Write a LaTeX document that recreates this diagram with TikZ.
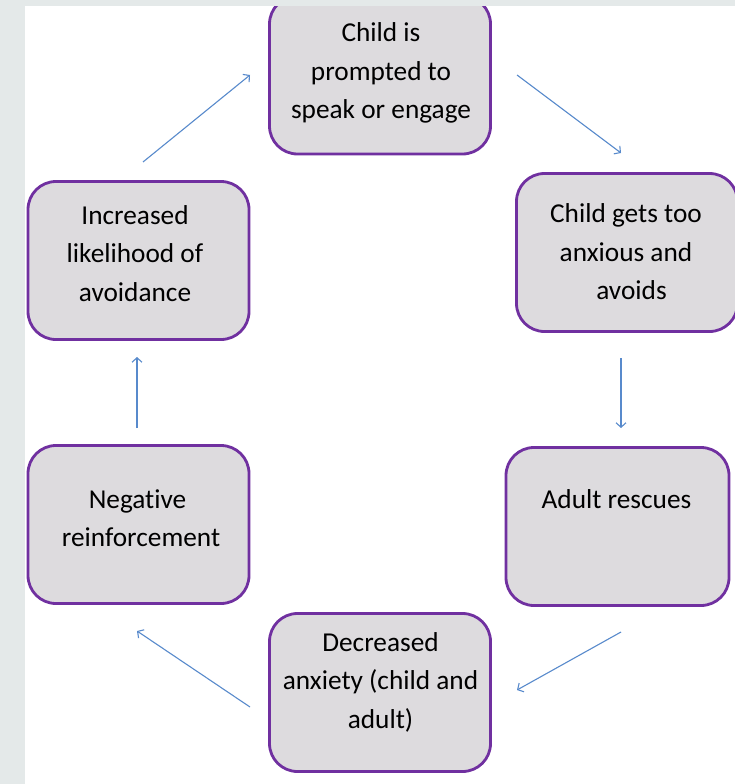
\documentclass[tikz,border=0pt]{standalone}
\usepackage{fontspec}
\setmainfont[Ligatures=NoCommon]{Carlito}
\usetikzlibrary{arrows.meta}
\definecolor{boxfill}{RGB}{221,219,222}
\definecolor{boxline}{RGB}{112,48,160}
\definecolor{arrowblue}{RGB}{88,138,204}
\definecolor{bggray}{RGB}{228,233,233}
\tikzset{
  box/.style={draw=boxline, line width=2.8pt, fill=boxfill, rounded corners=28pt,
    minimum width=221pt, minimum height=158pt, inner sep=0pt},
  txt/.style={anchor=base, inner sep=0pt, font=\fontsize{27.3}{38.5}\selectfont},
  flow/.style={draw=arrowblue, line width=1.1pt, -{Straight Barb[length=4.5pt,width=10pt]}}
}
\newcommand{\lines}[1]{\begin{tabular}[t]{@{}c@{}}#1\end{tabular}}
\begin{document}
\begin{tikzpicture}[x=1pt,y=-1pt]
\useasboundingbox (0,0) rectangle (735,784);
\clip (0,0) rectangle (735,784);
\fill[white] (0,0) rectangle (735,784);

% boxes
\node[box] (b1) at (380,75) {};
\node[box] (b2) at (627,252.5) {};
\node[box, minimum width=223pt] (b3) at (617.5,526.5) {};
\node[box] (b4) at (380,692.5) {};
\node[box] (b5) at (138.5,524.5) {};
\node[box] (b6) at (138.5,260.5) {};

% texts
\node[txt] (t1) at (381,41.7) {\lines{Child is\\prompted to\\speak or engage}};
\node[txt] (t2) at (626,222.7) {\lines{Child gets too\\anxious and\\\hspace*{11pt}avoids}};
\node[txt] (t3) at (616.5,508.3) {\lines{Adult rescues}};
\node[txt] (t4) at (380.5,651) {\lines{Decreased\\anxiety (child and\\adult)}};
\node[txt] (t5) at (141,508.3) {\lines{Negative\hspace*{7pt}\\reinforcement}};
\node[txt] (t6) at (135,224.3) {\lines{Increased\\likelihood of\\avoidance}};

% arrow end points
\coordinate (a1s) at (143,162);  \coordinate (a1e) at (250,75);
\coordinate (a2s) at (517,75);   \coordinate (a2e) at (621,153);
\coordinate (a3s) at (621,358);  \coordinate (a3e) at (621,428);
\coordinate (a4s) at (621,632);  \coordinate (a4e) at (517,690);
\coordinate (a5s) at (250,707);  \coordinate (a5e) at (137,631);
\coordinate (a6s) at (137,428);  \coordinate (a6e) at (137,357);

\draw[flow] (a1s) -- (a1e);
\draw[flow] (a2s) -- (a2e);
\draw[flow] (a3s) -- (a3e);
\draw[flow] (a4s) -- (a4e);
\draw[flow] (a5s) -- (a5e);
\draw[flow] (a6s) -- (a6e);

% page margins
\fill[bggray] (0,0) rectangle (25,784);
\fill[bggray] (0,0) rectangle (735,6);
\end{tikzpicture}
\end{document}
